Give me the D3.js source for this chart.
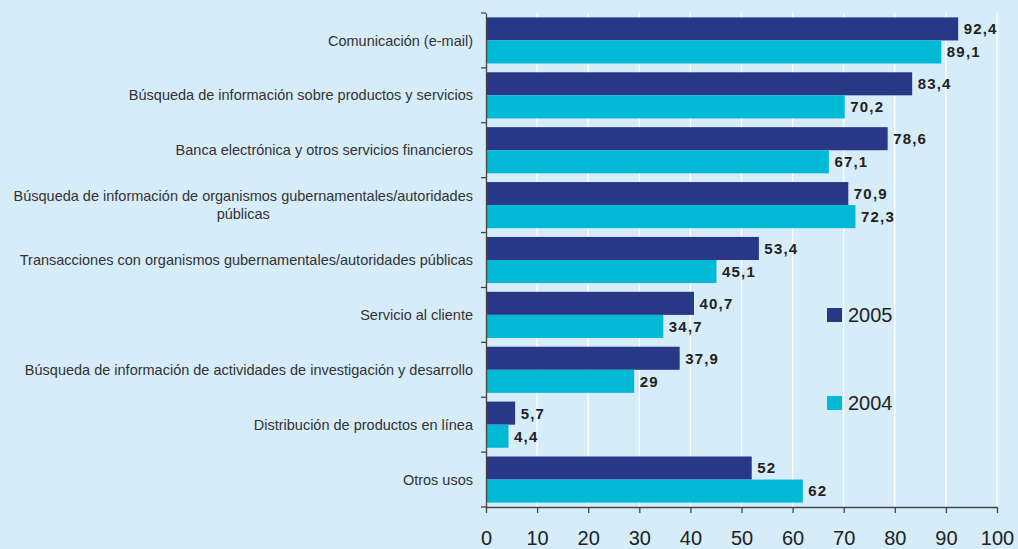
<!DOCTYPE html>
<html>
<head>
<meta charset="utf-8">
<script src="https://cdn.jsdelivr.net/npm/d3@7"></script>
<style>
  html, body { margin: 0; padding: 0; background: #d6ecf8; }
  svg { display: block; font-family: "Liberation Sans", Arial, sans-serif; }
</style>
</head>
<body>
<svg id="chart" width="1018" height="549"></svg>
<script>
// Internet usage categories (top to bottom)
const categories = [
  "Comunicación (e-mail)",
  "Búsqueda de información sobre productos y servicios",
  "Banca electrónica y otros servicios financieros",
  "Búsqueda de información de organismos gubernamentales/autoridades\npúblicas",
  "Transacciones con organismos gubernamentales/autoridades públicas",
  "Servicio al cliente",
  "Búsqueda de información de actividades de investigación y desarrollo",
  "Distribución de productos en línea",
  "Otros usos"
];
const values2005 = [92.4, 83.4, 78.6, 70.9, 53.4, 40.7, 37.9, 5.7, 52];
const values2004 = [89.1, 70.2, 67.1, 72.3, 45.1, 34.7, 29, 4.4, 62];
const seriesNames = ["2005", "2004"];
const xTicks = [0, 10, 20, 30, 40, 50, 60, 70, 80, 90, 100];

const colors = { "2005": "#283887", "2004": "#00b9d4" };
const fmt = v => String(v).replace(".", ",");

const svg = d3.select("#chart");
const plotLeft = 486, plotRight = 997, plotTop = 13, plotBottom = 507;

const x = d3.scaleLinear().domain([0, 100]).range([plotLeft, plotRight]);
const y = d3.scaleBand().domain(categories).range([plotTop, plotBottom]).padding(0);
const ySeries = d3.scaleBand().domain(seriesNames)
  .range([0, y.bandwidth()]).paddingInner(0).paddingOuter(0.19);

// vertical white gridlines
svg.append("g").selectAll("line").data(xTicks.filter(t => t > 0)).join("line")
  .attr("x1", d => x(d)).attr("x2", d => x(d))
  .attr("y1", plotTop).attr("y2", plotBottom)
  .attr("stroke", "#ffffff").attr("stroke-width", 1.3);

// bars
const rows = categories.map((c, i) => ({ c, v: { "2005": values2005[i], "2004": values2004[i] } }));
const groups = svg.append("g").selectAll("g").data(rows).join("g")
  .attr("transform", d => `translate(0,${y(d.c)})`);

groups.selectAll("rect").data(d => seriesNames.map(s => ({ s, v: d.v[s] }))).join("rect")
  .attr("x", x(0))
  .attr("y", d => ySeries(d.s))
  .attr("width", d => x(d.v) - x(0))
  .attr("height", ySeries.bandwidth())
  .attr("fill", d => colors[d.s]);

groups.selectAll("text").data(d => seriesNames.map(s => ({ s, v: d.v[s] }))).join("text")
  .attr("x", d => x(d.v) + 5.5)
  .attr("y", d => ySeries(d.s) + ySeries.bandwidth() / 2)
  .attr("dy", "0.36em")
  .attr("font-size", 15)
  .attr("font-weight", "bold")
  .attr("letter-spacing", 1.2)
  .attr("fill", "#222")
  .text(d => fmt(d.v));

// left axis line
const yAxis = svg.append("g")
  .attr("transform", `translate(${plotLeft},0)`)
  .call(d3.axisLeft(y).tickValues([]).tickSizeOuter(0));
yAxis.select(".domain").attr("stroke", "#444").attr("stroke-width", 1.3);
// tick marks at band boundaries
const boundaries = categories.map(c => y(c)).concat([plotBottom]);
svg.append("g").selectAll("line").data(boundaries).join("line")
  .attr("x1", plotLeft - 5).attr("x2", plotLeft)
  .attr("y1", d => d).attr("y2", d => d)
  .attr("stroke", "#444").attr("stroke-width", 1.3);

// category labels: right-aligned block, lines centred within the block
const labelRight = 473;
const lab = svg.append("g").attr("font-size", 14.5).attr("fill", "#333");
categories.forEach(c => {
  const lines = c.split("\n");
  const lh = 18;
  const cy = y(c) + y.bandwidth() / 2;
  const t = lab.append("text");
  lines.forEach((ln, j) => {
    t.append("tspan").text(ln)
      .attr("y", cy + (j - (lines.length - 1) / 2) * lh)
      .attr("dy", "0.35em");
  });
  const widths = t.selectAll("tspan").nodes().map(n => n.getComputedTextLength());
  const maxW = d3.max(widths);
  if (lines.length === 1) {
    t.attr("text-anchor", "end").selectAll("tspan").attr("x", labelRight);
  } else {
    t.attr("text-anchor", "middle").selectAll("tspan").attr("x", labelRight - maxW / 2);
  }
});

// bottom axis
const xAxis = svg.append("g")
  .attr("transform", `translate(0,${plotBottom})`)
  .call(d3.axisBottom(x).tickValues(xTicks).tickSize(6).tickSizeOuter(0).tickFormat(d3.format("d")));
xAxis.select(".domain").attr("stroke", "#444").attr("stroke-width", 1.3);
xAxis.selectAll(".tick line").attr("stroke", "#444").attr("stroke-width", 1.3);
xAxis.selectAll(".tick text")
  .attr("y", 38).attr("dy", 0)
  .attr("font-size", 20).attr("fill", "#222")
  .attr("font-family", "Liberation Sans, Arial, sans-serif");

// legend
const legend = svg.append("g");
const legendY = { "2005": 308, "2004": 396 };
seriesNames.forEach(s => {
  legend.append("rect").attr("x", 827).attr("y", legendY[s])
    .attr("width", 15).attr("height", 14).attr("fill", colors[s]);
  legend.append("text").attr("x", 848).attr("y", legendY[s] + 14)
    .attr("font-size", 20).attr("fill", "#222").text(s);
});
</script>
</body>
</html>
